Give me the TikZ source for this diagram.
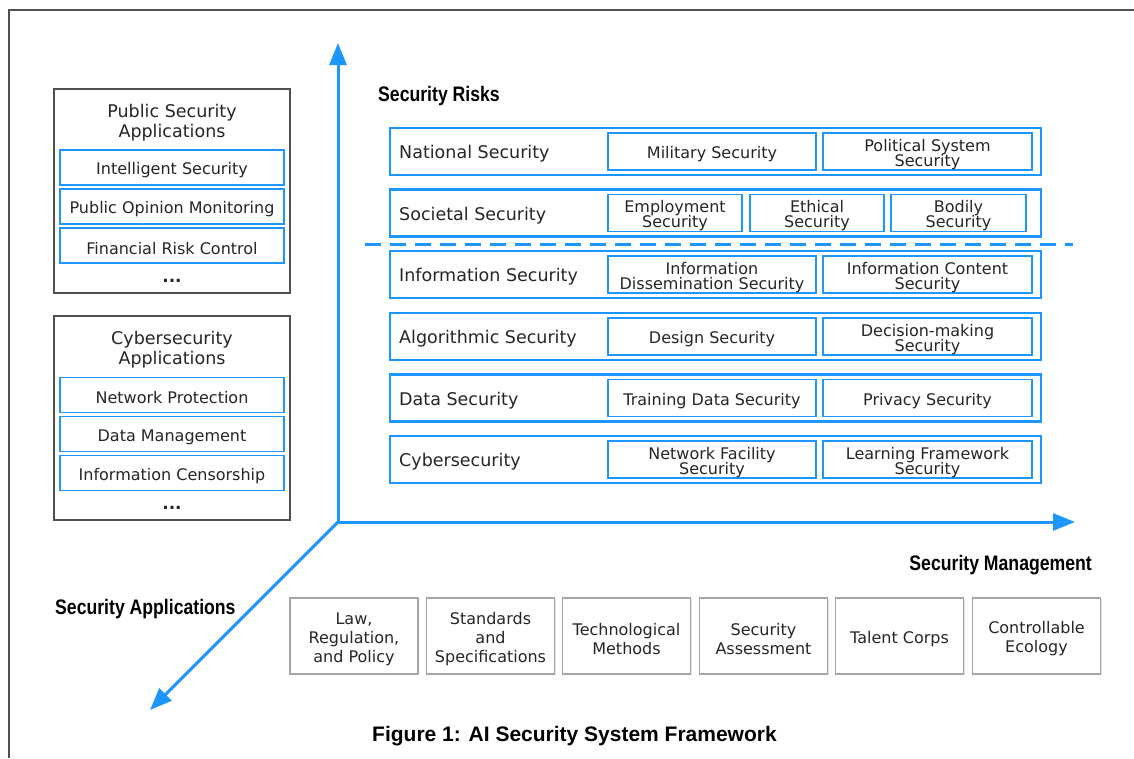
\documentclass[tikz,border=0pt]{standalone}
\usepackage{fontspec}
\usepackage{graphicx}
\setmainfont{DejaVu Sans}
\newfontfamily\headfont{Liberation Sans}
\usetikzlibrary{arrows.meta,shadows}
\definecolor{bluel}{RGB}{30,150,255}
\definecolor{txt}{RGB}{38,38,38}
\definecolor{frameg}{RGB}{80,80,80}
\definecolor{mgray}{RGB}{165,165,165}
\newcommand{\subfont}{\fontsize{16}{15}\selectfont\lineskiplimit=-30pt\lineskip=0pt}
\newcommand{\mgfont}{\fontsize{16}{19}\selectfont\lineskiplimit=-30pt\lineskip=0pt}
\newcommand{\titlefont}{\fontsize{17.5}{20.5}\selectfont\lineskiplimit=-30pt\lineskip=0pt}
\tikzset{
  tl/.style={inner sep=0pt, align=center, text=txt, yshift=-3pt, label distance=0pt},
  subtxt/.style={label={[tl, font=\subfont]center:{#1}}},
  mgtxt/.style={label={[tl, font=\mgfont]center:{#1}}},
  rowbox/.style={draw=bluel, line width=2.2pt, minimum width=651pt, minimum height=47pt, inner sep=0pt},
  rowlabel/.style={anchor=west, inner sep=0pt, text=txt, yshift=-2.5pt, font=\fontsize{17.5}{21}\selectfont},
  subbox/.style={draw=bluel, line width=1.6pt, minimum height=37pt, inner sep=0pt},
  appbox/.style={draw=frameg, line width=1.8pt, minimum width=236pt, minimum height=204pt, inner sep=0pt,
                 drop shadow={shadow xshift=1pt, shadow yshift=-1pt, opacity=0.25}, fill=white},
  apptitle/.style={align=center, inner sep=0pt, text=txt, yshift=-2.5pt, font=\titlefont},
  appitem/.style={draw=bluel, line width=1.6pt, minimum width=224pt, minimum height=35pt, inner sep=0pt},
  dots/.style={inner sep=0pt, text=txt, font=\fontsize{17}{19}\selectfont\bfseries},
  mgbox/.style={draw=mgray, line width=1.4pt, minimum width=128pt, minimum height=76pt, inner sep=0pt,
                fill=white, drop shadow={shadow xshift=1pt, shadow yshift=-1pt, opacity=0.2}},
  axis/.style={draw=bluel, line width=3pt, -{Triangle[length=22pt,width=17pt]}},
  hdr/.style={inner sep=0pt, text=black, yshift=-2pt, font=\headfont\bfseries\fontsize{21}{24}\selectfont},
}
\newcommand{\cond}[1]{\scalebox{0.84}[1]{#1}}
\begin{document}
\begin{tikzpicture}[x=1pt,y=-1pt]
\useasboundingbox[fill=white] (0,0) rectangle (1134,758);
% frame
\draw[frameg, line width=2.5pt] (9,758) -- (9,10) -- (1134,10);

% left application boxes
\node[appbox] (psa) at (172,191) {};
\node[apptitle] (psat) at (172,120) {Public Security\\Applications};
\node[appitem, subtxt={Intelligent Security}] (psa1) at (172,167.5) {};
\node[appitem, subtxt={Public Opinion Monitoring}] (psa2) at (172,206.5) {};
\node[appitem, subtxt={Financial Risk Control}] (psa3) at (172,245.5) {};
\node[dots] (psad) at (172,281) {...};

\node[appbox] (csa) at (172,418) {};
\node[apptitle] (csat) at (172,347) {Cybersecurity\\Applications};
\node[appitem, subtxt={Network Protection}] (csa1) at (172,395) {};
\node[appitem, subtxt={Data Management}] (csa2) at (172,434) {};
\node[appitem, subtxt={Information Censorship}] (csa3) at (172,473) {};
\node[dots] (csad) at (172,508) {...};

% axes
\coordinate (O) at (338,522);
\coordinate (up) at (338,43);
\coordinate (right) at (1075,522);
\coordinate (diag) at (150,710);
\draw[axis] (O) -- (up);
\draw[axis] (O) -- (right);
\draw[axis] (O) -- (diag);

% headers
\node[hdr, anchor=west] (hrisk) at (378,94) {\cond{Security Risks}};
\node[hdr, anchor=east] (hmgmt) at (1092,563) {\cond{Security Management}};
\node[hdr, anchor=west] (happ) at (55,607) {\cond{Security Applications}};

% risk rows
\node[rowbox] (row1) at (715.5,151.5) {};
\node[rowlabel] (row1l) at (399,151.5) {National Security};
\node[subbox, minimum width=208pt, subtxt={Military Security}] (row1a) at (712,151.5) {};
\node[subbox, minimum width=209pt, subtxt={Political System\\Security}] (row1b) at (927.5,151.5) {};

\node[rowbox] (row2) at (715.5,213) {};
\node[rowlabel] (row2l) at (399,213) {Societal Security};
\node[subbox, minimum width=134pt, subtxt={Employment\\Security}] (row2a) at (675,213) {};
\node[subbox, minimum width=134pt, subtxt={Ethical\\Security}] (row2b) at (817,213) {};
\node[subbox, minimum width=135pt, subtxt={Bodily\\Security}] (row2c) at (958.5,213) {};

\coordinate (dashL) at (365,244.5);
\coordinate (dashR) at (1073,244.5);
\draw[bluel, line width=3pt, dash pattern=on 16pt off 9pt] (dashL) -- (dashR);

\node[rowbox] (row3) at (715.5,274.5) {};
\node[rowlabel] (row3l) at (399,274.5) {Information Security};
\node[subbox, minimum width=208pt, subtxt={Information\\Dissemination Security}] (row3a) at (712,274.5) {};
\node[subbox, minimum width=209pt, subtxt={Information Content\\Security}] (row3b) at (927.5,274.5) {};

\node[rowbox] (row4) at (715.5,336.5) {};
\node[rowlabel] (row4l) at (399,336.5) {Algorithmic Security};
\node[subbox, minimum width=208pt, subtxt={Design Security}] (row4a) at (712,336.5) {};
\node[subbox, minimum width=209pt, subtxt={Decision-making\\Security}] (row4b) at (927.5,336.5) {};

\node[rowbox] (row5) at (715.5,398) {};
\node[rowlabel] (row5l) at (399,398) {Data Security};
\node[subbox, minimum width=208pt, subtxt={Training Data Security}] (row5a) at (712,398) {};
\node[subbox, minimum width=209pt, subtxt={Privacy Security}] (row5b) at (927.5,398) {};

\node[rowbox] (row6) at (715.5,459.5) {};
\node[rowlabel] (row6l) at (399,459.5) {Cybersecurity};
\node[subbox, minimum width=208pt, subtxt={Network Facility\\Security}] (row6a) at (712,459.5) {};
\node[subbox, minimum width=209pt, subtxt={Learning Framework\\Security}] (row6b) at (927.5,459.5) {};

% management boxes
\node[mgbox, mgtxt={Law,\\Regulation,\\and Policy}] (m1) at (354,636) {};
\node[mgbox, mgtxt={Standards\\and\\Specifications}] (m2) at (490.5,636) {};
\node[mgbox, mgtxt={Technological\\Methods}] (m3) at (626.5,636) {};
\node[mgbox, mgtxt={Security\\Assessment}] (m4) at (763.5,636) {};
\node[mgbox, mgtxt={Talent Corps}] (m5) at (899.5,636) {};
\node[mgbox, mgtxt={Controllable\\Ecology}] (m6) at (1036.5,636) {};

% caption
\node[inner sep=0pt, text=black, yshift=-3pt, font=\headfont\bfseries\fontsize{21}{25}\selectfont] (cap) at (574.5,733) {Figure 1: AI Security System Framework};
\end{tikzpicture}
\end{document}
